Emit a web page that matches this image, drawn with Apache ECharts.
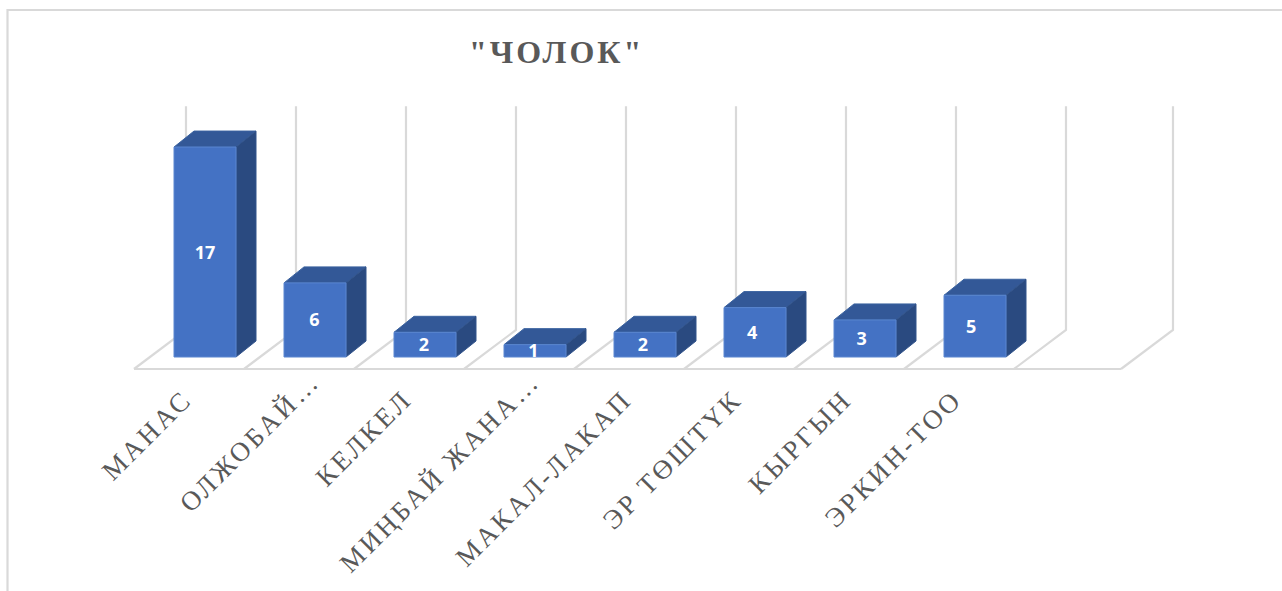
<!DOCTYPE html>
<html><head><meta charset="utf-8">
<style>html,body{margin:0;padding:0;background:#fff}#c{width:1282px;height:591px}
#c text[style*="Serif"]{letter-spacing:3px}</style>
<script src="https://cdn.jsdelivr.net/npm/echarts@6/dist/echarts.min.js"></script></head>
<body><div id="c"></div>
<script>
const categories = ['МАНАС','ОЛЖОБАЙ…','КЕЛКЕЛ','МИҢБАЙ ЖАНА…','МАКАЛ-ЛАКАП','ЭР ТӨШТҮК','КЫРГЫН','ЭРКИН-ТОО',''];
const values = [17,6,2,1,2,4,3,5];
const axisMax = 18;
const titleText = '"ЧОЛОК"';

const chart = echarts.init(document.getElementById('c'), null, {renderer:'svg'});
const FRONT={dx:-16,dy:12}, BACK={dx:36,dy:-27}, GRID='#d9d9d9';
function wallLine(api, i, side, trim){
  const base=api.coord([i,0]), top=api.coord([i,axisMax]), w=api.size([1,0])[0];
  const x=base[0]+side*w/2-trim;
  return {type:'polyline',silent:true,shape:{points:[[x+FRONT.dx,base[1]+FRONT.dy],[x+BACK.dx,base[1]+BACK.dy],[x+BACK.dx,top[1]+BACK.dy-1.5]]},
    style:{stroke:GRID,lineWidth:2.2,fill:null}};
}
const labelPad = 25;
chart.setOption({
  animation:false,
  title:{text:titleText,left:464,top:31,textStyle:{fontFamily:'Liberation Serif',fontWeight:'bold',fontSize:32,color:'#595959'}},
  grid:{left:150,right:142,top:110,bottom:234},
  xAxis:{type:'category',
    data:categories.map(c=>c.endsWith('…')?{value:c,textStyle:{padding:[0,0,0,0]}}:c),
    axisLine:{show:false},axisTick:{show:false},splitLine:{show:false},
    axisLabel:{interval:0,rotate:45,margin:20,color:'#595959',fontFamily:'Liberation Serif',fontSize:27,hideOverlap:false,padding:[0,labelPad,0,0]}},
  yAxis:{type:'value',min:0,max:20,show:false,splitLine:{show:false}},
  graphic:[
    {type:'polyline',silent:true,shape:{points:[[7.5,591],[7.5,10],[1282,10]]},style:{stroke:GRID,lineWidth:2.2,fill:null}}
  ],
  series:[
    {type:'custom',z:1,silent:true,data:categories.map((c,i)=>[i]),encode:{x:0},
     renderItem(p,api){
       const i=api.value(0), ch=[wallLine(api,i,-1,0)];
       if(i===categories.length-1){ch.push(wallLine(api,i,1,3));
         const b=api.coord([0,0]), e=api.coord([i,0]), w=api.size([1,0])[0];
         ch.push({type:'line',silent:true,shape:{x1:b[0]-w/2+FRONT.dx,y1:b[1]+FRONT.dy,x2:e[0]+w/2-3+FRONT.dx,y2:e[1]+FRONT.dy},style:{stroke:GRID,lineWidth:2.2}});
       }
       return {type:'group',children:ch};
     }},
    {type:'custom',z:2,silent:true,data:values.map((v,i)=>[i,v]),encode:{x:0,y:1},
     renderItem(p,api){
       const i=api.value(0), b=api.coord([i,0]), t=api.coord([i,api.value(1)]);
       const hw=31, dx=20, dy=-16, l=b[0]-hw, r=b[0]+hw;
       const edge='#5a86d0';
       return {type:'group',children:[
         {type:'polygon',shape:{points:[[l,t[1]],[l+dx,t[1]+dy],[r+dx,t[1]+dy],[r,t[1]]]},style:{fill:'#335897',stroke:'#3a629f',lineWidth:1}},
         {type:'polygon',shape:{points:[[r,t[1]],[r+dx,t[1]+dy],[r+dx,b[1]+dy],[r,b[1]]]},style:{fill:'#2a4a80',stroke:'#32548c',lineWidth:1}},
         {type:'rect',shape:{x:l,y:t[1],width:2*hw,height:b[1]-t[1]},style:{fill:'#4472c4',stroke:edge,lineWidth:1}},
         {type:'text',style:{x:b[0]-0.55*i,y:(b[1]+t[1])/2-0.5,text:String(api.value(1)),fill:'#fff',font:'bold 18px "Open Sans"',align:'center',verticalAlign:'middle'}}
       ]};
     }}
  ]
});
</script></body></html>
